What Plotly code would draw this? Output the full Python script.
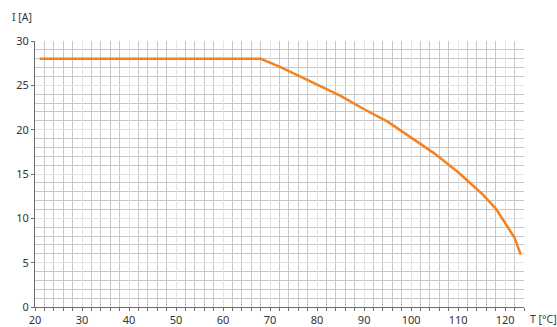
import plotly.graph_objects as go

# Derating curve: permissible current vs. temperature
temperature_c = [21, 68, 72, 76, 80, 85, 90, 95, 100, 105, 110, 115, 118, 120, 122, 123.3]
current_a = [28, 28, 27.1, 26.1, 25.1, 23.8, 22.3, 20.9, 19.1, 17.3, 15.2, 12.8, 11.1, 9.5, 7.8, 5.9]

x_ticks = [20, 30, 40, 50, 60, 70, 80, 90, 100, 110, 120]
y_ticks = [0, 5, 10, 15, 20, 25, 30]

font = dict(family="Noto Sans, DejaVu Sans, sans-serif", size=11, color="#333333")
title_font = dict(family="Noto Sans, DejaVu Sans, sans-serif", size=10.5, color="#333333")

fig = go.Figure()
fig.add_trace(go.Scatter(
    x=temperature_c, y=current_a, mode="lines",
    line=dict(color="#f5821f", width=2.5),
    hoverinfo="skip", showlegend=False,
))

axis_common = dict(
    showline=True, linecolor="#6e6e6e", linewidth=1,
    ticks="outside", ticklen=3, tickcolor="#6e6e6e",
    showgrid=True, gridcolor="#e4e4e4", gridwidth=1,
    zeroline=False, tickfont=font, automargin=False,
)

fig.update_xaxes(
    range=[20, 124], tickvals=x_ticks,
    minor=dict(dtick=2, tick0=20, showgrid=True, gridcolor="#c8c8c8",
               ticks="outside", ticklen=3, tickcolor="#6e6e6e"),
    **axis_common,
)
fig.update_yaxes(
    range=[0, 30], tickvals=y_ticks,
    minor=dict(dtick=1, tick0=0, showgrid=True, gridcolor="#c8c8c8", ticks=""),
    **axis_common,
)

fig.add_annotation(text="I [A]", xref="paper", yref="paper", x=-0.051, y=1.09,
                   xanchor="left", yanchor="middle", showarrow=False, font=title_font)
fig.add_annotation(text="T [°C]", xref="paper", yref="paper", x=1.008, y=-0.045,
                   xanchor="left", yanchor="middle", showarrow=False, font=title_font)

fig.update_layout(
    width=557, height=327,
    margin=dict(l=35, r=33, t=41, b=20),
    plot_bgcolor="white", paper_bgcolor="white",
    font=font,
)

fig.write_html("out.html")
